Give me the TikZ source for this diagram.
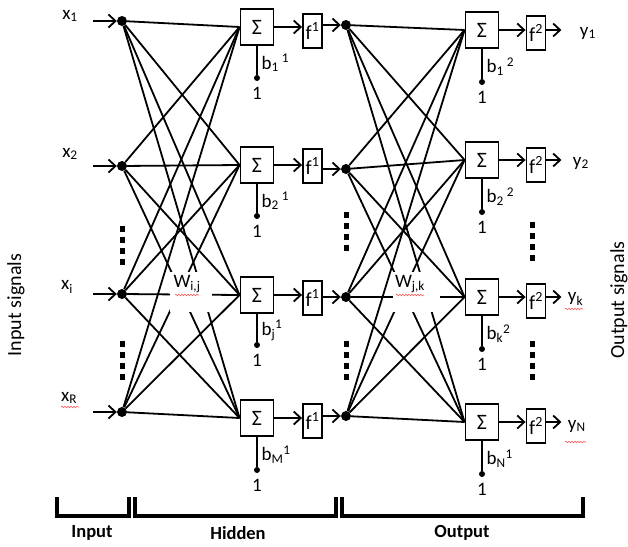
\documentclass[tikz,border=0pt]{standalone}
\usepackage{fontspec}
\setmainfont{Carlito}
\usetikzlibrary{arrows.meta,calc,decorations.pathmorphing}

\tikzset{
  every node/.style={font=\fontsize{19}{22}\selectfont},
  link/.style={line width=1.8pt},
  sig/.style={line width=1.8pt,-{Straight Barb[length=7pt,width=13pt,line width=1.8pt]}},
  sumbox/.style={draw,line width=1.9pt,minimum width=33pt,minimum height=36pt,inner sep=0pt,fill=white,font=\fontsize{22}{24}\selectfont},
  actbox/.style={draw,line width=1.9pt,minimum width=19pt,minimum height=34pt,inner sep=0pt,font=\fontsize{20}{22}\selectfont},
  neuron/.style={circle,fill,inner sep=0pt,minimum size=10pt},
  biasdot/.style={circle,fill,inner sep=0pt,minimum size=6pt},
  squiggle/.style={red!65,line width=0.6pt,decorate,decoration={snake,amplitude=0.8pt,segment length=3pt}},
  bracket/.style={line width=4pt},
  layername/.style={font=\fontsize{18.5}{20}\selectfont\bfseries},
  sidename/.style={font=\fontsize{20}{22}\selectfont,rotate=90},
}

\begin{document}
\begin{tikzpicture}[x=1pt,y=-1pt]
\useasboundingbox (0,0) rectangle (628,546);

% input nodes
\node[neuron] (in1) at (122,21) {};
\node[neuron] (in2) at (122,166) {};
\node[neuron] (in3) at (122,294) {};
\node[neuron] (in4) at (122,412) {};

% hidden layer: summation, activation, output node
\node[sumbox] (hs1) at (257,27) {Σ};
\node[sumbox] (hs2) at (257,165) {Σ};
\node[sumbox] (hs3) at (257,295) {Σ};
\node[sumbox] (hs4) at (257,418) {Σ};
\node[actbox] (hf1) at (312.5,31) {f\textsuperscript{1}};
\node[actbox] (hf2) at (312.5,166) {f\textsuperscript{1}};
\node[actbox] (hf3) at (312.5,298) {f\textsuperscript{1}};
\node[actbox] (hf4) at (312.5,421) {f\textsuperscript{1}};
\node[neuron] (hd1) at (346,25) {};
\node[neuron] (hd2) at (346,169) {};
\node[neuron] (hd3) at (346,297) {};
\node[neuron] (hd4) at (346,416) {};

% output layer
\node[sumbox] (os1) at (482,30) {Σ};
\node[sumbox] (os2) at (482,160) {Σ};
\node[sumbox] (os3) at (482,297) {Σ};
\node[sumbox] (os4) at (482,422) {Σ};
\node[actbox] (of1) at (536,33) {f\textsuperscript{2}};
\node[actbox] (of2) at (536,165) {f\textsuperscript{2}};
\node[actbox] (of3) at (536,301) {f\textsuperscript{2}};
\node[actbox] (of4) at (536,426) {f\textsuperscript{2}};

% full connections
\foreach \i in {1,...,4}{
  \foreach \j in {1,...,4}{
    \draw[link] (in\i) -- (hs\j.west);
    \draw[link] (hd\i) -- (os\j.west);
  }
}

% gaps behind the weight labels
\fill[white] (170,272) rectangle (212,312);
\fill[white] (393,272) rectangle (440,312);
\node (wij) at (187,284) {W\textsubscript{i,j}};
\node (wjk) at (410,284) {W\textsubscript{j,k}};
\draw[squiggle] (175,295) -- (199,295);
\draw[squiggle] (396,295) -- (424,295);

% input signals
\foreach \i/\y in {1/21,2/166,3/294,4/412}{
  \coordinate (ia\i) at (93,\y);
  \draw[sig] (ia\i) -- (in\i);
}
\node (lx1) at (70,16) {x\textsubscript{1}};
\node (lx2) at (70,154) {x\textsubscript{2}};
\node (lx3) at (67,287) {x\textsubscript{i}};
\node (lx4) at (69,398) {x\textsubscript{R}};
\draw[squiggle] (61,407) -- (79,407);

% signal flow through the neurons
\foreach \i in {1,...,4}{
  \draw[sig] (hs\i.east) -- (hs\i.east -| hf\i.west);
  \draw[sig] (hf\i.east |- hd\i) -- (hd\i);
  \draw[sig] (os\i.east) -- (os\i.east -| of\i.west);
  \coordinate (oa\i) at ($(of\i.east |- os\i)+(15,0)$);
  \draw[sig] (of\i.east |- os\i) -- (oa\i);
}
\node[anchor=west] (ly1) at ($(oa1)+(15,3)$) {y\textsubscript{1}};
\node[anchor=west] (ly2) at ($(oa2)+(8,3)$) {y\textsubscript{2}};
\node[anchor=west] (ly3) at ($(oa3)+(3,2)$) {y\textsubscript{k}};
\node[anchor=west] (ly4) at ($(oa4)+(3,4)$) {y\textsubscript{N}};
\draw[squiggle] (565,309) -- (583,309);
\draw[squiggle] (565,442) -- (586,442);

% biases
\node[biasdot] (hb1) at (257,78) {};
\node[biasdot] (hb2) at (257,216) {};
\node[biasdot] (hb3) at (257,345) {};
\node[biasdot] (hb4) at (257,470) {};
\node[biasdot] (ob1) at (482,82) {};
\node[biasdot] (ob2) at (482,212) {};
\node[biasdot] (ob3) at (482,349) {};
\node[biasdot] (ob4) at (482,474) {};
\foreach \n in {hb1,hb2,hb3,hb4,ob1,ob2,ob3,ob4}{
  \node (\n one) at ($(\n)+(0,15)$) {1};
}
\foreach \i in {1,...,4}{
  \draw[link] (hs\i.south) -- (hb\i);
  \draw[link] (os\i.south) -- (ob\i);
}
\node[anchor=west] (lhb1) at ($(hs1.south)!0.5!(hb1)+(1,1)$) {b\textsubscript{1}\,\textsuperscript{1}};
\node[anchor=west] (lhb2) at ($(hs2.south)!0.5!(hb2)+(1,1)$) {b\textsubscript{2}\,\textsuperscript{1}};
\node[anchor=west] (lhb3) at ($(hs3.south)!0.5!(hb3)+(1,1)$) {b\textsubscript{j}\textsuperscript{1}};
\node[anchor=west] (lhb4) at ($(hs4.south)!0.5!(hb4)+(1,1)$) {b\textsubscript{M}\textsuperscript{1}};
\node[anchor=west] (lob1) at ($(os1.south)!0.5!(ob1)+(1,1)$) {b\textsubscript{1}\,\textsuperscript{2}};
\node[anchor=west] (lob2) at ($(os2.south)!0.5!(ob2)+(1,1)$) {b\textsubscript{2}\,\textsuperscript{2}};
\node[anchor=west] (lob3) at ($(os3.south)!0.5!(ob3)+(1,1)$) {b\textsubscript{k}\textsuperscript{2}};
\node[anchor=west] (lob4) at ($(os4.south)!0.5!(ob4)+(1,1)$) {b\textsubscript{N}\textsuperscript{1}};

% vertical ellipses
\foreach \cx/\cy in {122/245,122/360,346/231,346/360,532/241,532/360}{
  \foreach \d in {-16.5,-5.5,5.5,16.5}{
    \fill (\cx-2.5,\cy+\d-3) rectangle (\cx+2.5,\cy+\d+3);
  }
}

% side labels
\node[sidename] (insig) at (16,305) {Input signals};
\node[sidename] (outsig) at (619,300) {Output signals};

% layer brackets
\draw[bracket] (57,497) -- (57,516) -- (129,516) -- (129,497);
\draw[bracket] (135,497) -- (135,516) -- (336,516) -- (336,497);
\draw[bracket] (342,497) -- (342,516) -- (583,516) -- (583,497);
\node[layername] (linput) at (92,533) {Input};
\node[layername] (lhidden) at (238,533) {Hidden};
\node[layername] (loutput) at (462,533) {Output};
\end{tikzpicture}
\end{document}
